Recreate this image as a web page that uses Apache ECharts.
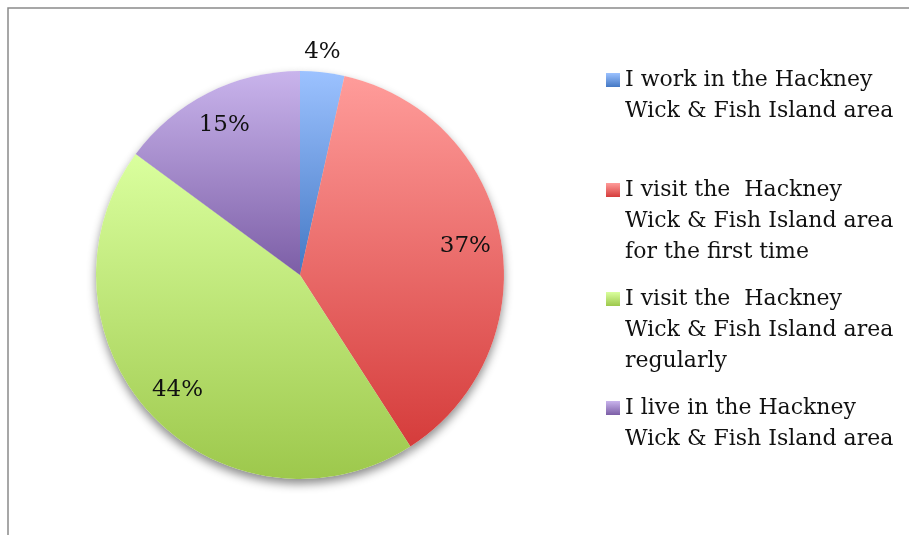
<!DOCTYPE html>
<html>
<head>
<meta charset="utf-8">
<script src="https://cdn.jsdelivr.net/npm/echarts@6/dist/echarts.min.js"></script>
<style>
html,body{margin:0;padding:0;background:#fff;}
#c{width:909px;height:535px;}
</style>
</head>
<body>
<div id="c"></div>
<script>
const categories = [
  "I work in the Hackney\nWick & Fish Island area",
  "I visit the  Hackney\nWick & Fish Island area\nfor the first time",
  "I visit the  Hackney\nWick & Fish Island area\nregularly",
  "I live in the Hackney\nWick & Fish Island area"
];
const values = [3.5, 37.4, 44.2, 14.9];

const gradStops = [
  ['#9CC2FF', '#4478C4'],
  ['#FF9C9A', '#D53C3B'],
  ['#DAFF9E', '#9DC84C'],
  ['#C9B4EC', '#7C5EA6']
];
function grad(i) {
  return new echarts.graphic.LinearGradient(0, 0, 0, 1, [
    {offset: 0, color: gradStops[i][0]},
    {offset: 1, color: gradStops[i][1]}
  ]);
}
const FONT = 'DejaVu Serif';
const LH = 31;
const firstLineCenters = [80, 190, 299, 408];

const chart = echarts.init(document.getElementById('c'), null, {renderer: 'canvas'});

const legends = categories.map((name, i) => {
  const n = name.split('\n').length;
  return {
    orient: 'vertical',
    left: 606,
    top: firstLineCenters[i] - LH / 2 - (n - 1) * LH,
    padding: 0,
    itemWidth: 14,
    itemHeight: 14,
    icon: 'rect',
    selectedMode: false,
    data: [{name: name, itemStyle: {color: grad(i)}}],
    formatter: nm => '\u00a0\n'.repeat(n - 1) + nm,
    textStyle: {
      fontFamily: FONT,
      fontSize: 22,
      color: '#111',
      lineHeight: LH
    }
  };
});

const center = [300, 275];
const R = 204;

chart.setOption({
  animation: false,
  backgroundColor: '#fff',
  graphic: [{
    type: 'rect',
    shape: {x: 8, y: 8, width: 960, height: 600},
    style: {fill: 'none', stroke: '#8a8a8a', lineWidth: 1.5},
    silent: true,
    z: -10
  }],
  legend: legends,
  series: [
    {
      type: 'pie',
      z: 2,
      center: center,
      radius: [0, R],
      startAngle: 90,
      clockwise: true,
      silent: true,
      label: {show: false},
      labelLine: {show: false},
      itemStyle: {borderWidth: 0},
      data: categories.map((name, i) => ({name: name, value: values[i], itemStyle: {color: grad(i)}}))
    },
    {
      type: 'pie',
      z: 1,
      center: center,
      radius: [0, R],
      startAngle: 90,
      clockwise: true,
      silent: true,
      label: {show: false},
      labelLine: {show: false},
      itemStyle: {color: '#fff', borderWidth: 0, shadowBlur: 10, shadowOffsetY: 5, shadowColor: 'rgba(0,0,0,0.45)'},
      data: categories.map((name, i) => ({name: name, value: values[i]}))
    },
    {
      type: 'pie',
      z: 3,
      center: center,
      radius: [126, R],
      startAngle: 90,
      clockwise: true,
      silent: true,
      itemStyle: {color: 'rgba(0,0,0,0)', borderWidth: 0},
      labelLine: {show: false},
      label: {
        show: true,
        position: 'inside',
        fontFamily: FONT,
        fontSize: 23,
        color: '#111',
        formatter: p => Math.round(p.percent) + '%'
      },
      data: categories.map((name, i) => ({
        name: name,
        value: values[i],
        label: i === 0 ? {offset: [4, -56]} : {}
      }))
    }
  ]
});
</script>
</body>
</html>
